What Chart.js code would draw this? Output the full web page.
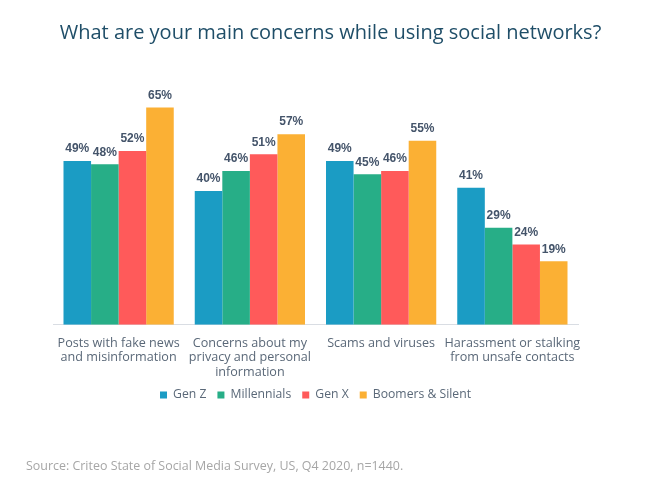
<!DOCTYPE html>
<html>
<head>
<meta charset="utf-8">
<script src="https://cdn.jsdelivr.net/npm/chart.js@4"></script>
<style>
  html, body { margin: 0; padding: 0; background: #fff; }
  #wrap { position: relative; width: 649px; height: 478px; }
  #title { position: absolute; left: 0; width: 661px; top: 18px; text-align: center; font: 20px "Open Sans", sans-serif; color: #1f4e68; }
  #source { position: absolute; left: 26px; top: 457px; font: 12.45px "Open Sans", sans-serif; color: #a6a6a6; }
  #chart-box { position: absolute; left: 0; top: 0; width: 649px; height: 478px; }
</style>
</head>
<body>
<div id="wrap">
  <div id="chart-box"><canvas id="chart"></canvas></div>
  <div id="title">What are your main concerns while using social networks?</div>
  <div id="source">Source: Criteo State of Social Media Survey, US, Q4 2020, n=1440.</div>
</div>
<script>
const categories = [
  ['Posts with fake news', 'and misinformation'],
  ['Concerns about my', 'privacy and personal', 'information'],
  ['Scams and viruses'],
  ['Harassment or stalking', 'from unsafe contacts']
];
const genZ = [49, 40, 49, 41];
const millennials = [48, 46, 45, 29];
const genX = [52, 51, 46, 24];
const boomers = [65, 57, 55, 19];

// value labels above each bar
const barLabels = {
  id: 'barLabels',
  afterDatasetsDraw(chart) {
    const ctx = chart.ctx;
    ctx.save();
    ctx.font = 'bold 12px "Liberation Sans", sans-serif';
    ctx.fillStyle = '#44546a';
    ctx.textAlign = 'center';
    ctx.textBaseline = 'bottom';
    chart.data.datasets.forEach((ds, i) => {
      chart.getDatasetMeta(i).data.forEach((bar, j) => {
        ctx.fillText(ds.data[j] + '%', bar.x, bar.y - 6);
      });
    });
    ctx.restore();
  }
};

new Chart(document.getElementById('chart'), {
  type: 'bar',
  data: {
    labels: categories,
    datasets: [
      { label: 'Gen Z', data: genZ, backgroundColor: '#1b9cc4' },
      { label: 'Millennials', data: millennials, backgroundColor: '#27ae87' },
      { label: 'Gen X', data: genX, backgroundColor: '#ff5a5a' },
      { label: 'Boomers & Silent', data: boomers, backgroundColor: '#fbb034' }
    ]
  },
  options: {
    responsive: true,
    maintainAspectRatio: false,
    animation: false,
    layout: { padding: { left: 53, right: 71, top: 84, bottom: 67 } },
    datasets: { bar: { categoryPercentage: 0.84, barPercentage: 1 } },
    scales: {
      x: {
        grid: { display: false },
        border: { color: '#d9dde3' },
        // fixed height so the axis line and the legend both land where they should
        afterFit: scale => { scale.height = 53; },
        ticks: { color: '#5a6878', font: { family: '"Open Sans", sans-serif', size: 12.6, lineHeight: 1.15 }, maxRotation: 0, autoSkip: false, padding: 3 }
      },
      y: { display: false, min: 0, max: 72 }
    },
    plugins: {
      title: { display: false },
      tooltip: { enabled: false },
      legend: {
        position: 'bottom',
        align: 'center',
        labels: { color: '#5a6878', boxWidth: 7, boxHeight: 7, padding: 11, font: { family: '"Open Sans", sans-serif', size: 12.2 } }
      }
    }
  },
  plugins: [barLabels]
});
</script>
</body>
</html>
